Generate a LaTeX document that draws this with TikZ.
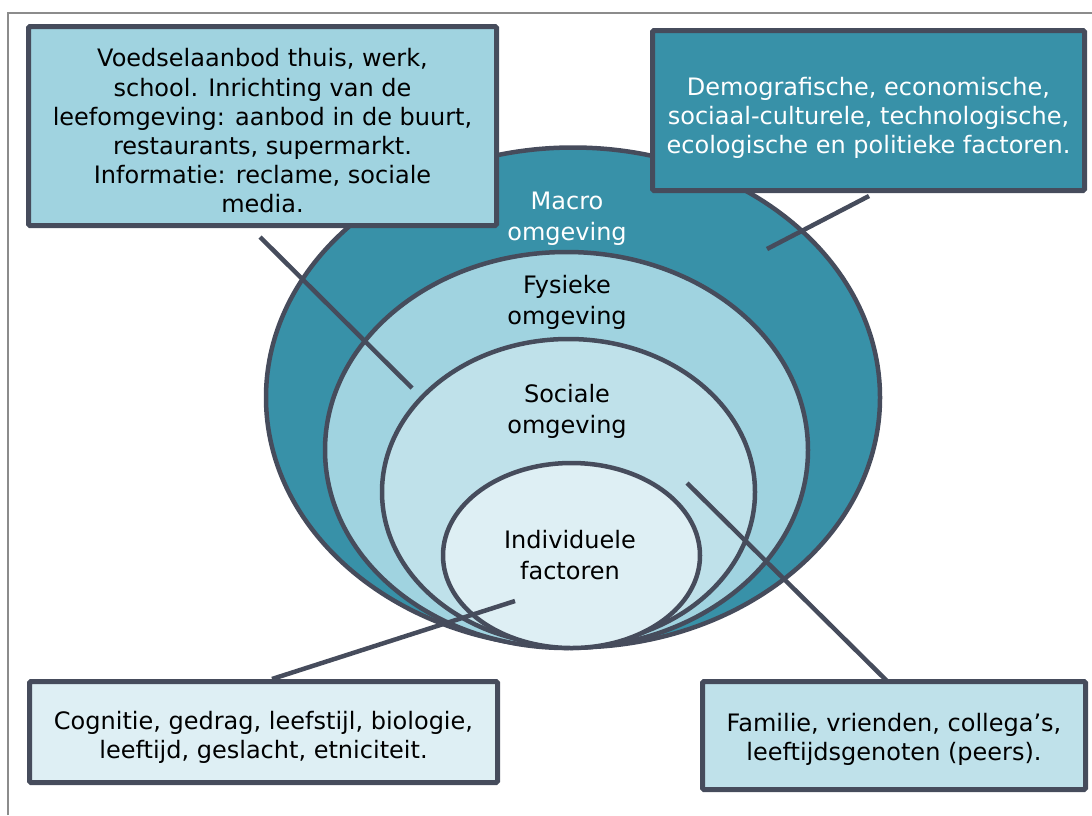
\documentclass[tikz,border=0pt]{standalone}
\usepackage{fontspec}
\setmainfont{DejaVu Sans}
\definecolor{macro}{HTML}{3891A8}
\definecolor{fys}{HTML}{A0D3E0}
\definecolor{soc}{HTML}{BFE1EA}
\definecolor{ind}{HTML}{DEEFF4}
\definecolor{edge}{HTML}{464C5C}
\definecolor{frame}{HTML}{8C8C8C}
\tikzset{
  ring/.style={draw=edge, line width=4.5pt},
  infobox/.style={draw=edge, line width=5pt, rounded corners=1.5pt, inner sep=0pt},
  boxtext/.style={align=center, inner sep=0pt, font=\fontsize{24}{29.2}\selectfont},
  lbl/.style={align=center, font=\fontsize{24}{31}\selectfont},
  conn/.style={draw=edge, line width=4.5pt}
}
\begin{document}
\begin{tikzpicture}[x=1pt,y=-1pt]
\useasboundingbox (0,0) rectangle (1092,815);
% frame
\draw[frame, line width=2pt] (8,815) -- (8,13) -- (1092,13);
% ellipses
\filldraw[ring, fill=macro] (573,397.5) ellipse [x radius=307pt, y radius=250pt];
\filldraw[ring, fill=fys] (566.5,450) ellipse [x radius=241.5pt, y radius=198pt];
\filldraw[ring, fill=soc] (568.5,492) ellipse [x radius=186.5pt, y radius=153pt];
\filldraw[ring, fill=ind] (571.5,555.5) ellipse [x radius=128.5pt, y radius=92.5pt];
% ellipse labels
\node[lbl, text=white] (macrolbl) at (567,219) {Macro\\omgeving};
\node[lbl] (fyslbl) at (567,302) {Fysieke\\omgeving};
\node[lbl] (soclbl) at (567,411) {Sociale\\omgeving};
\node[lbl] (indlbl) at (570,555) {Individuele\\factoren};
% boxes
\node[infobox, fill=fys, minimum width=468pt, minimum height=199pt] (tl) at (262.5,126) {};
\node[boxtext] (tltext) at (262.5,131)
  {Voedselaanbod thuis, werk,\\school. Inrichting van de\\leefomgeving: aanbod in de buurt,\\restaurants, supermarkt.\\Informatie: reclame, sociale\\media.};
\node[infobox, fill=macro, minimum width=432pt, minimum height=160pt] (tr) at (868.5,110.5) {};
\node[boxtext, text=white] (trtext) at (868.5,118)
  {Demografische, economische,\\sociaal-culturele, technologische,\\ecologische en politieke factoren.};
\node[infobox, fill=ind, minimum width=468pt, minimum height=101pt] (bl) at (263.5,732) {};
\node[boxtext] (bltext) at (263.5,737)
  {Cognitie, gedrag, leefstijl, biologie,\\leeftijd, geslacht, etniciteit.};
\node[infobox, fill=soc, minimum width=383pt, minimum height=108pt] (br) at (894,735.5) {};
\node[boxtext] (brtext) at (894,739)
  {Familie, vrienden, collega’s,\\leeftijdsgenoten (peers).};
% connector end points
\coordinate (tlA) at (260,237);
\coordinate (tlB) at (412,388);
\coordinate (trA) at (869,196);
\coordinate (trB) at (767,249);
\coordinate (blA) at (272,679);
\coordinate (blB) at (515,601);
\coordinate (brA) at (888,682);
\coordinate (brB) at (687,483);
\draw[conn] (tlA) -- (tlB);
\draw[conn] (trA) -- (trB);
\draw[conn] (blA) -- (blB);
\draw[conn] (brA) -- (brB);
\end{tikzpicture}
\end{document}
